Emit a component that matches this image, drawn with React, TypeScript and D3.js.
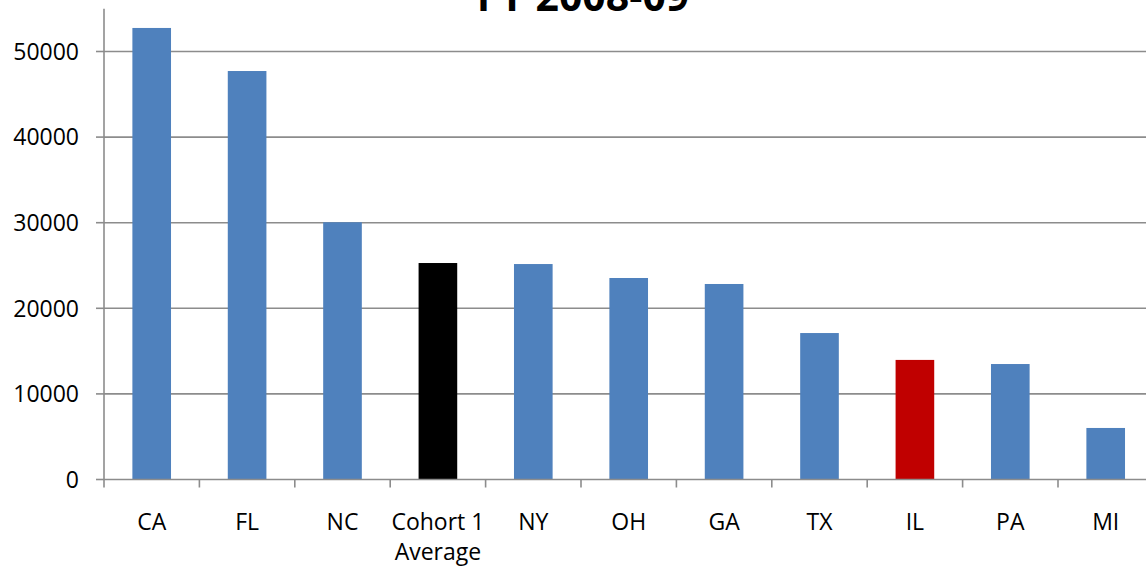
import React from "react";
import * as d3 from "d3";

const categories: string[] = ["CA", "FL", "NC", "Cohort 1\nAverage", "NY", "OH", "GA", "TX", "IL", "PA", "MI"];
const values: number[] = [52750, 47720, 30050, 25290, 25170, 23540, 22840, 17110, 13970, 13490, 6020];
const barColors: string[] = ["#4F81BD", "#4F81BD", "#4F81BD", "#000000", "#4F81BD", "#4F81BD", "#4F81BD", "#4F81BD", "#C00000", "#4F81BD", "#4F81BD"];
const yTicks: number[] = [0, 10000, 20000, 30000, 40000, 50000];
const title = "FY 2008-09";

const W = 1146;
const H = 567;
const left = 104;
const bottom = 479.5;
const top = 8.7;
const step = 95.4;
const FONT = "'Open Sans', 'Liberation Sans', sans-serif";
const GRID = "#8c8c8c";

export default function App() {
  const x = d3
    .scaleBand<string>()
    .domain(categories)
    .range([left, left + step * categories.length])
    .paddingInner(0.595)
    .paddingOuter(0.2975);
  const y = d3.scaleLinear().domain([0, 55000]).range([bottom, top]);

  return (
    <svg
      width={W}
      height={H}
      style={{ position: "absolute", left: 0, top: 0, background: "#fff" }}
      fontFamily={FONT}
    >
      <rect x={0} y={0} width={W} height={H} fill="#fff" />
      {/* gridlines */}
      {yTicks.filter((t) => t > 0).map((t) => (
        <line key={"g" + t} x1={left} x2={W} y1={y(t)} y2={y(t)} stroke={GRID} strokeWidth={1.6} />
      ))}
      {/* bars */}
      {categories.map((c, i) => (
        <rect
          key={c}
          x={x(c)}
          y={y(values[i])}
          width={x.bandwidth()}
          height={bottom - y(values[i])}
          fill={barColors[i]}
        />
      ))}
      {/* y axis */}
      <line x1={left} x2={left} y1={top} y2={bottom} stroke={GRID} strokeWidth={1.6} />
      {yTicks.map((t) => (
        <g key={"y" + t}>
          <line x1={left - 8} x2={left} y1={y(t)} y2={y(t)} stroke={GRID} strokeWidth={1.6} />
          <text x={79} y={y(t)} dy="0.36em" textAnchor="end" fontSize={23} fill="#000">
            {t}
          </text>
        </g>
      ))}
      {/* x axis */}
      <line x1={left} x2={W} y1={bottom} y2={bottom} stroke={GRID} strokeWidth={1.6} />
      {d3.range(categories.length + 1).map((i) => {
        const xx = left + i * x.step();
        return <line key={"xt" + i} x1={xx} x2={xx} y1={bottom} y2={bottom + 8} stroke={GRID} strokeWidth={1.6} />;
      })}
      {categories.map((c) => {
        const cx = (x(c) as number) + x.bandwidth() / 2;
        const lines = c.split("\n");
        return (
          <text key={"l" + c} x={cx} y={530} textAnchor="middle" fontSize={23} fill="#000">
            {lines.map((ln, j) => (
              <tspan key={j} x={cx} dy={j === 0 ? 0 : 30}>
                {ln}
              </tspan>
            ))}
          </text>
        );
      })}
      {/* title */}
      <text x={583} y={11} textAnchor="middle" fontSize={41} fontWeight="bold" fill="#000">
        {title}
      </text>
    </svg>
  );
}
